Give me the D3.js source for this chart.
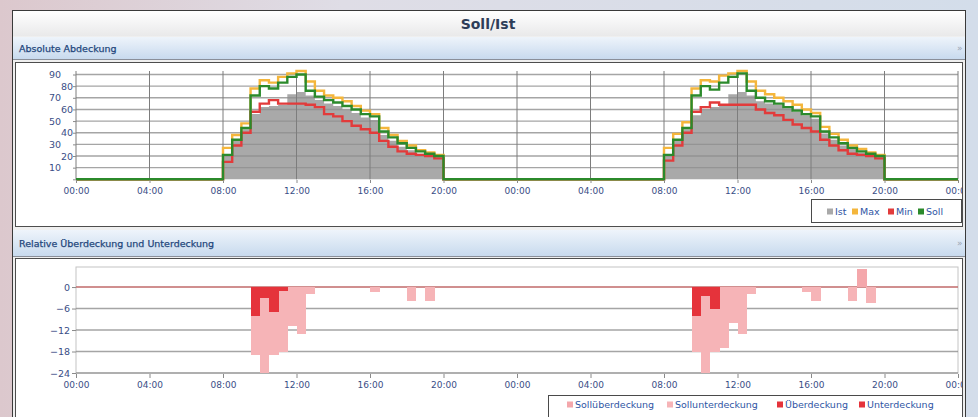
<!DOCTYPE html>
<meta charset="utf-8">
<script src="https://cdn.jsdelivr.net/npm/d3@7"></script>
<style>
  body { margin: 0; overflow: hidden; }
  text { font-family: "DejaVu Sans", sans-serif; }
</style>
<body>
<div id="chart"></div>
<script>
// half-hour slots during the working day (same for both days)
var slots = ["08:00","08:30","09:00","09:30","10:00","10:30","11:00","11:30",
             "12:00","12:30","13:00","13:30","14:00","14:30","15:00","15:30",
             "16:00","16:30","17:00","17:30","18:00","18:30","19:00","19:30"];
var dayOffsets = [0, 24];

var xTicks = [0, 4, 8, 12, 16, 20, 24, 28, 32, 36, 40, 44, 48];
var xTickLabels = ["00:00","04:00","08:00","12:00","16:00","20:00",
                   "00:00","04:00","08:00","12:00","16:00","20:00","00:00"];
var yTicksTop = [0, 10, 20, 30, 40, 50, 60, 70, 80, 90];
var yTicksBottom = [0, -6, -12, -18, -24];

// absolute coverage, day 1 / day 2
var ist1  = [21,33,43,56,62,63,64,73,75,72,68,65,63,60,57,53,51,38,33,28,25,22,21,19];
var ist2  = [21,33,43,55,60,62,63,73,75,72,67,65,64,61,58,55,52,39,34,29,26,23,21,19];
var max1  = [27,38,48,78,85,83,88,91,93,84,76,72,70,67,63,59,56,44,38,33,29,25,23,21];
var max2  = [27,39,49,78,85,84,89,91,93,84,76,73,70,67,64,60,57,45,39,34,29,26,23,21];
var min1  = [15,29,40,58,65,68,65,65,65,64,62,56,54,50,46,43,40,33,28,24,22,21,20,18];
var min2  = [16,29,40,58,62,66,64,64,64,64,60,57,55,51,47,44,41,34,29,25,22,21,20,18];
var soll1 = [21,34,44,72,80,78,83,88,90,76,71,68,66,63,60,56,54,41,36,31,27,24,22,20];
var soll2 = [21,34,44,72,80,77,83,88,91,76,70,67,65,62,59,56,54,41,36,31,27,24,22,20];

// relative over/under coverage, day 1 / day 2
var sollUeber1 = [0,0,0,0,0,0,0,0,0,0,0,0,0,0,0,0,0,0,0,0,0,0,0,0];
var sollUeber2 = [0,0,0,0,0,0,0,0,0,0,0,0,0,0,0,0,0,0,0,0,0,5,0,0];
var sollUnter1 = [0,0,0,-19,-24,-19,-18,-11,-13,-2,0,0,0,0,0,0,-1.5,0,0,0,-4,0,-4,0];
var sollUnter2 = [0,0,0,-18,-24,-18,-17,-10,-13,-2,0,0,0,0,0,-1.5,-4,0,0,0,-4,0,-4.5,0];
var ueber1 = [0,0,0,0,0,0,0,0,0,0,0,0,0,0,0,0,0,0,0,0,0,0,0,0];
var ueber2 = [0,0,0,0,0,0,0,0,0,0,0,0,0,0,0,0,0,0,0,0,0,0,0,0];
var unter1 = [0,0,0,-8,-3,-7,-1,0,0,0,0,0,0,0,0,0,0,0,0,0,0,0,0,0];
var unter2 = [0,0,0,-8,-2.6,-6,0,0,0,0,0,0,0,0,0,0,0,0,0,0,0,0,0,0];

var colIst = "#a9a9a9", colMax = "#f4b63c", colMin = "#e23b3b", colSoll = "#2b8a2b";
var colPink = "#f4a7ab", colPink2 = "#f6b4b7", colRed = "#e5333b";
var labelColor = "#3a4e86";

var W = 978, H = 417;

function hourOf(s) {
  var p = s.split(":");
  return +p[0] + (+p[1]) / 60;
}

// step series over 48h, zero outside the working day
function series(d1, d2) {
  var pts = [[0, 0]];
  [d1, d2].forEach(function(vals, di) {
    vals.forEach(function(v, i) { pts.push([dayOffsets[di] + hourOf(slots[i]), v]); });
    pts.push([dayOffsets[di] + 20, 0]);
  });
  pts.push([48, 0]);
  return pts;
}

function bars(d1, d2) {
  var out = [];
  [d1, d2].forEach(function(vals, di) {
    vals.forEach(function(v, i) {
      if (v !== 0) out.push({ h: dayOffsets[di] + hourOf(slots[i]), v: v });
    });
  });
  return out;
}

var svg = d3.select("#chart").append("svg")
  .attr("width", W).attr("height", H);

var defs = svg.append("defs");
function grad(id, stops, vertical) {
  var g = defs.append("linearGradient").attr("id", id)
    .attr("x1", 0).attr("y1", 0).attr("x2", vertical ? 0 : 1).attr("y2", vertical ? 1 : 0);
  stops.forEach(function(s) { g.append("stop").attr("offset", s[0]).attr("stop-color", s[1]); });
}
grad("bg", [[0, "#dcc8cd"], [0.35, "#dfdde6"], [1, "#d3ddea"]], false);
grad("titlebar", [[0, "#ffffff"], [1, "#e9e9ea"]], true);
grad("head", [[0, "#eef4fb"], [1, "#c8daee"]], true);

defs.append("clipPath").attr("id", "clip1").append("rect")
  .attr("x", 16).attr("y", 63).attr("width", 946).attr("height", 163);
defs.append("clipPath").attr("id", "clip2").append("rect")
  .attr("x", 16).attr("y", 259).attr("width", 946).attr("height", 160);

// page background and window
svg.append("rect").attr("width", W).attr("height", H).attr("fill", "url(#bg)");
svg.append("rect").attr("x", 12.5).attr("y", 10.5).attr("width", 953).attr("height", 420)
  .attr("fill", "#efefef").attr("stroke", "#3a3a3a");
svg.append("rect").attr("x", 13).attr("y", 11).attr("width", 952).attr("height", 25)
  .attr("fill", "url(#titlebar)");
svg.append("text").attr("x", 488).attr("y", 29)
  .attr("text-anchor", "middle")
  .style("font-size", "14px").style("font-weight", "bold")
  .attr("fill", "#2d3d58").text("Soll/Ist");

function header(y, h, label) {
  svg.append("rect").attr("x", 13).attr("y", y).attr("width", 952).attr("height", h)
    .attr("fill", "url(#head)");
  svg.append("line").attr("x1", 13).attr("x2", 965).attr("y1", y + h + 0.5).attr("y2", y + h + 0.5)
    .attr("stroke", "#8a8f99");
  svg.append("text").attr("x", 19).attr("y", y + h / 2 + 3.5)
    .style("font-size", "9.5px").attr("fill", "#24477c")
    .attr("stroke", "#24477c").attr("stroke-width", 0.25).text(label);
  svg.append("text").attr("x", 957).attr("y", y + h / 2 + 3)
    .style("font-size", "9px").attr("fill", "#9aa3b2").text("»");
}
header(37, 22, "Absolute Abdeckung");
header(230, 26, "Relative Überdeckung und Unterdeckung");

svg.append("rect").attr("x", 15.5).attr("y", 62.5).attr("width", 947).attr("height", 164)
  .attr("fill", "#fff").attr("stroke", "#4d4d4d");
svg.append("rect").attr("x", 15.5).attr("y", 258.5).attr("width", 947).attr("height", 170)
  .attr("fill", "#fff").attr("stroke", "#4d4d4d");

var x = d3.scaleLinear().domain([0, 48]).range([76, 958]);

// ---------- top chart ----------
var g1 = svg.append("g").attr("clip-path", "url(#clip1)");
var y1 = d3.scaleLinear().domain([0, 90]).range([179.3, 74.5]);

g1.append("path")
  .datum(series(ist1, ist2))
  .attr("fill", colIst)
  .attr("d", d3.area().curve(d3.curveStepAfter)
    .x(function(d) { return x(d[0]); })
    .y0(y1(0))
    .y1(function(d) { return y1(d[1]); }));

g1.append("g").selectAll("line").data(yTicksTop.slice(1)).enter().append("line")
  .attr("x1", x(0)).attr("x2", x(48))
  .attr("y1", function(d) { return y1(d); }).attr("y2", function(d) { return y1(d); })
  .attr("stroke", "#8f8f8f").attr("stroke-opacity", 0.8).attr("stroke-width", 1.4);

g1.append("g").selectAll("line").data(xTicks).enter().append("line")
  .attr("x1", function(d) { return x(d); }).attr("x2", function(d) { return x(d); })
  .attr("y1", 71).attr("y2", y1(0))
  .attr("stroke", "#7d7d7d").attr("stroke-width", 1);

var line1 = d3.line().curve(d3.curveStepAfter)
  .x(function(d) { return x(d[0]); })
  .y(function(d) { return y1(d[1]); });

[[max1, max2, colMax], [min1, min2, colMin], [soll1, soll2, colSoll]].forEach(function(s) {
  g1.append("path").datum(series(s[0], s[1]))
    .attr("fill", "none").attr("stroke", s[2]).attr("stroke-width", 2.4)
    .attr("d", line1);
});

var xAxis1 = g1.append("g").attr("transform", "translate(0," + 180 + ")")
  .call(d3.axisBottom(x).tickValues(xTicks)
    .tickFormat(function(d, i) { return xTickLabels[i]; }).tickSize(3).tickPadding(5));
xAxis1.select(".domain").remove();
xAxis1.selectAll("line").attr("stroke", "#8a8a8a");
xAxis1.selectAll("text").attr("fill", labelColor).style("font-size", "9px")
  .style("font-family", "DejaVu Sans, sans-serif");

var yAxis1 = svg.append("g").attr("transform", "translate(" + x(0) + ",0)")
  .call(d3.axisLeft(y1).tickValues(yTicksTop).tickSize(3).tickPadding(2)
    .tickFormat(function(d) { return d === 0 ? "" : d; }));
yAxis1.select(".domain").remove();
yAxis1.selectAll("line").attr("stroke", "#8a8a8a");
yAxis1.selectAll("text")
  .attr("x", function(d) { return (d / 10) % 2 === 1 ? -15 : -3; })
  .attr("fill", labelColor).style("font-size", "9.5px")
  .style("font-family", "DejaVu Sans, sans-serif");

// ---------- bottom chart ----------
var g2 = svg.append("g").attr("clip-path", "url(#clip2)");
var y2 = d3.scaleLinear().domain([-24, 5.6]).range([373, 267]);

g2.append("rect").attr("x", x(0)).attr("y", y2(5.6))
  .attr("width", x(48) - x(0)).attr("height", y2(-24) - y2(5.6))
  .attr("fill", "none").attr("stroke", "#c4c4c4");

g2.append("g").selectAll("line").data(yTicksBottom.slice(1)).enter().append("line")
  .attr("x1", x(0)).attr("x2", x(48))
  .attr("y1", function(d) { return y2(d); }).attr("y2", function(d) { return y2(d); })
  .attr("stroke", "#8f8f8f").attr("stroke-opacity", 0.8).attr("stroke-width", 1.4);

g2.append("line").attr("x1", x(0)).attr("x2", x(48))
  .attr("y1", y2(0)).attr("y2", y2(0))
  .attr("stroke", "#c06a6a").attr("stroke-width", 1.5);

function drawBars(data, color) {
  g2.append("g").attr("shape-rendering", "crispEdges")
    .selectAll("rect").data(data).enter().append("rect")
    .attr("x", function(d) { return x(d.h); })
    .attr("width", function(d) { return x(d.h + 0.5) - x(d.h) + 0.4; })
    .attr("y", function(d) { return y2(Math.max(0, d.v)); })
    .attr("height", function(d) { return Math.abs(y2(d.v) - y2(0)); })
    .attr("fill", color);
}
drawBars(bars(sollUeber1, sollUeber2), colPink);
drawBars(bars(sollUnter1, sollUnter2), colPink2);
drawBars(bars(ueber1, ueber2), colRed);
drawBars(bars(unter1, unter2), colRed);

var xAxis2 = g2.append("g").attr("transform", "translate(0," + 374 + ")")
  .call(d3.axisBottom(x).tickValues(xTicks)
    .tickFormat(function(d, i) { return xTickLabels[i]; }).tickSize(4).tickPadding(4));
xAxis2.select(".domain").remove();
xAxis2.selectAll("line").attr("stroke", "#8a8a8a");
xAxis2.selectAll("text").attr("fill", labelColor).style("font-size", "9px")
  .style("font-family", "DejaVu Sans, sans-serif");

var yAxis2 = svg.append("g").attr("transform", "translate(" + x(0) + ",0)")
  .call(d3.axisLeft(y2).tickValues(yTicksBottom).tickSize(4).tickPadding(2));
yAxis2.select(".domain").remove();
yAxis2.selectAll("line").attr("stroke", "#8a8a8a");
yAxis2.selectAll("text").attr("fill", labelColor).style("font-size", "9.5px")
  .style("font-family", "DejaVu Sans, sans-serif");

// ---------- legends ----------
function legend(box, items, ty) {
  svg.append("rect").attr("x", box[0] + 0.5).attr("y", box[1] + 0.5)
    .attr("width", box[2]).attr("height", box[3])
    .attr("fill", "#fff").attr("stroke", "#4a4a4a");
  items.forEach(function(it) {
    svg.append("rect").attr("x", it.x).attr("y", ty - 3.5).attr("width", 6).attr("height", 6)
      .attr("fill", it.color);
    svg.append("text").attr("x", it.x + 8).attr("y", ty + 3)
      .style("font-size", "9.5px").attr("fill", "#2f55a4").text(it.label);
  });
}
legend([811, 199, 150, 23], [
  { label: "Ist",  color: colIst,  x: 827 },
  { label: "Max",  color: colMax,  x: 852 },
  { label: "Min",  color: colMin,  x: 888 },
  { label: "Soll", color: colSoll, x: 918 }
], 212);
legend([548, 395, 414, 22], [
  { label: "Sollüberdeckung",  color: colPink,  x: 567 },
  { label: "Sollunterdeckung", color: colPink2, x: 667 },
  { label: "Überdeckung",      color: colRed,   x: 777 },
  { label: "Unterdeckung",     color: colRed,   x: 859 }
], 405);
</script>
</body>
